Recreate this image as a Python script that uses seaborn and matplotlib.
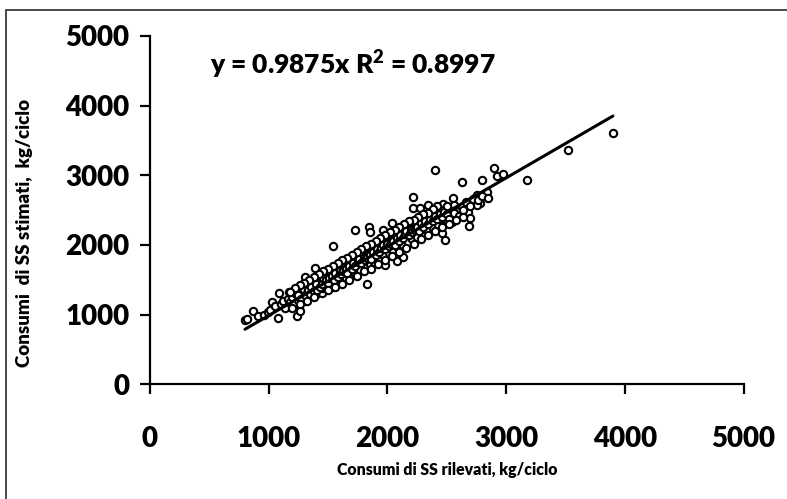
import numpy as np
import pandas as pd
import seaborn as sns
import matplotlib.pyplot as plt
from matplotlib.patches import Rectangle

# ---------------- data ----------------
x_a = [800, 820, 871, 910, 960, 995, 1010, 1025, 1050, 1076,
       1090, 1100, 1120, 1140, 1160, 1174, 1180, 1200, 1210, 1230,
       1236, 1250, 1264, 1270, 1280, 1290, 1300, 1306, 1320, 1330,
       1340, 1350, 1360, 1370, 1380, 1390, 1400, 1410, 1420, 1430,
       1440, 1446, 1450, 1460, 1470, 1480, 1490, 1500, 1510, 1520,
       1530, 1540, 1545, 1550, 1560, 1570, 1580, 1590, 1600, 1610,
       1620, 1630, 1640, 1650, 1660, 1670, 1680, 1690, 1700, 1710,
       1720, 1727, 1730, 1740, 1750, 1760, 1770, 1780, 1790, 1800,
       1810, 1820, 1826, 1830, 1840, 1848, 1853, 1850, 1860, 1870,
       1880, 1890, 1900, 1910, 1920, 1930, 1940, 1950, 1960, 1966,
       1970, 1980, 1985, 1990, 2000, 2010, 2020, 2030, 2036, 2040,
       2050, 2060, 2070, 2079, 2080, 2090, 2100, 2110, 2120, 2130,
       2135, 2140, 2150, 2160, 2170, 2180, 2190, 2200, 2210, 2218,
       2218, 2220, 2230, 2240, 2250, 2260, 2275, 2280, 2290, 2300,
       2310, 2320, 2330, 2345, 2350, 2360, 2370, 2380, 2390, 2401,
       2410, 2420, 2430, 2440, 2458, 2466, 2471, 2480, 2486, 2500,
       2520, 2542, 2550, 2584, 2600, 2626, 2626, 2682, 2682, 2696,
       2690, 2752, 2738, 2780, 2752, 2795, 2837, 2901, 2921, 2977,
       3174, 3519, 3900]
y_a = [924, 935, 1053, 986, 1000, 1039, 1060, 1178, 1120, 957,
       1307, 1150, 1200, 1100, 1230, 1331, 1180, 1250, 1150, 1290,
       986, 1210, 1058, 1330, 1260, 1380, 1200, 1546, 1320, 1420,
       1260, 1380, 1480, 1330, 1400, 1667, 1300, 1450, 1380, 1520,
       1420, 1307, 1500, 1380, 1580, 1460, 1400, 1540, 1620, 1480,
       1400, 1560, 1987, 1650, 1520, 1450, 1600, 1700, 1560, 1480,
       1640, 1740, 1600, 1520, 1680, 1780, 1640, 1560, 1720, 1820,
       1680, 2217, 1600, 1760, 1870, 1720, 1640, 1800, 1900, 1760,
       1680, 1840, 1441, 1950, 1800, 2265, 2193, 1720, 1880, 2000,
       1840, 1760, 1920, 2040, 1880, 1800, 1960, 2080, 1920, 2217,
       1840, 1714, 2000, 2120, 1960, 1880, 2040, 2160, 2322, 2000,
       1920, 2080, 2200, 1776, 2040, 1960, 2120, 2240, 2080, 2000,
       1833, 2160, 2280, 2120, 2040, 2200, 2320, 2160, 2080, 2687,
       2529, 2240, 2360, 2200, 2120, 2280, 2529, 2240, 2160, 2320,
       2420, 2280, 2200, 2576, 2360, 2460, 2300, 2240, 2400, 3079,
       2340, 2460, 2280, 2380, 2169, 2586, 2504, 2420, 2073, 2340,
       2460, 2336, 2673, 2418, 2500, 2897, 2552, 2576, 2480, 2385,
       2274, 2720, 2672, 2600, 2576, 2935, 2767, 3103, 2997, 3017,
       2935, 3366, 3611]

x_b = [1250, 1270, 1300, 1310, 1330, 1350, 1360, 1380, 1400, 1410,
       1430, 1450, 1460, 1480, 1500, 1510, 1530, 1550, 1560, 1580,
       1600, 1610, 1630, 1650, 1660, 1680, 1700, 1710, 1730, 1750,
       1760, 1780, 1800, 1810, 1830, 1850, 1860, 1880, 1900, 1910,
       1930, 1950, 1960, 1980, 2000, 2010, 2030, 2050, 2060, 2080,
       2100, 2110, 2130, 2150, 2160, 2180, 2200, 2210, 2230, 2250,
       2270, 2280, 2300, 2320, 2340, 2360, 2380, 2400, 2420, 2440,
       2460, 2480, 2500, 2520, 2540, 2560, 2600, 2640, 2660, 2700,
       2720, 2760, 2800, 2850, 2560, 2500, 2420, 2380, 2340, 2300,
       2260, 2220, 2180, 2140, 2100, 2060, 2020, 1980, 1940, 1900,
       1860, 1820, 1780, 1740, 1700, 1660, 1620, 1580, 1540, 1500,
       1460, 1420, 1380, 1340, 1300, 1260, 1220, 1180, 1200, 1260,
       1320, 1380, 1500, 1560, 1620, 1680, 1740, 1800, 1860, 1920,
       1980, 2040, 2100, 2160, 2220, 2280, 2340, 2400, 2460, 2520,
       2580, 2640]
y_b = [1280, 1230, 1350, 1280, 1360, 1300, 1400, 1340, 1440, 1360,
       1400, 1440, 1520, 1500, 1460, 1520, 1560, 1500, 1600, 1540,
       1620, 1580, 1620, 1660, 1600, 1700, 1660, 1740, 1700, 1760,
       1800, 1740, 1820, 1780, 1820, 1860, 1800, 1900, 1860, 1940,
       1900, 1960, 2000, 1940, 2020, 1980, 2020, 2060, 2000, 2100,
       2060, 2140, 2100, 2160, 2200, 2140, 2220, 2180, 2220, 2260,
       2200, 2320, 2260, 2340, 2300, 2380, 2340, 2420, 2380, 2440,
       2400, 2480, 2440, 2380, 2520, 2460, 2420, 2500, 2620, 2560,
       2660, 2640, 2700, 2680, 2580, 2560, 2560, 2520, 2460, 2440,
       2400, 2360, 2340, 2300, 2260, 2220, 2180, 2140, 2100, 2060,
       2020, 1980, 1940, 1900, 1860, 1820, 1780, 1740, 1700, 1660,
       1620, 1580, 1540, 1500, 1460, 1420, 1380, 1320, 1100, 1150,
       1200, 1250, 1350, 1400, 1440, 1500, 1560, 1620, 1660, 1720,
       1780, 1840, 1900, 1960, 2020, 2080, 2140, 2200, 2260, 2300,
       2360, 2400]

slope = 0.9875
r2 = 0.8997
x_ticks = [0, 1000, 2000, 3000, 4000, 5000]
y_ticks = [0, 1000, 2000, 3000, 4000, 5000]
x_label = "Consumi di SS rilevati, kg/ciclo"
y_label = "Consumi  di SS stimati,  kg/ciclo"

df = pd.DataFrame({"rilevati": x_a + x_b, "stimati": y_a + y_b})
line_df = pd.DataFrame({"rilevati": [df["rilevati"].min(), df["rilevati"].max()]})
line_df["stimati"] = slope * line_df["rilevati"]

# ---------------- style ----------------
sns.set_theme(style="white")
plt.rcParams["font.family"] = ["Lato", "DejaVu Sans"]
plt.rcParams["font.weight"] = "heavy"
plt.rcParams["mathtext.fontset"] = "custom"
plt.rcParams["mathtext.bf"] = "Lato:heavy"
plt.rcParams["mathtext.rm"] = "Lato:heavy"

W, H = 787, 499
fig = plt.figure(figsize=(W / 100, H / 100), dpi=100)
fig.patch.set_facecolor("white")
ax = fig.add_axes([150 / W, 1 - 384.3 / H, (743.5 - 150) / W, (384.3 - 36) / H])
ax.set_facecolor("white")

sns.scatterplot(data=df, x="rilevati", y="stimati", ax=ax, marker="o",
                s=28, facecolor="white", edgecolor="black", linewidth=1.5,
                zorder=3)
sns.lineplot(data=line_df, x="rilevati", y="stimati", ax=ax, color="black",
             linewidth=2.2, zorder=4)

ax.set_xlim(0, 5000)
ax.set_ylim(0, 5000)
ax.set_xticks(x_ticks)
ax.set_yticks(y_ticks)
ax.set_xticklabels([str(t) for t in x_ticks], fontsize=20, fontweight="heavy")
ax.set_yticklabels([str(t) for t in y_ticks], fontsize=20, fontweight="heavy")
ax.tick_params(axis="x", direction="out", length=7, width=1.6, pad=23, colors="black")
ax.tick_params(axis="y", direction="out", length=7, width=1.6, pad=8, colors="black")
ax.tick_params(bottom=True, left=True)
for side in ["top", "right"]:
    ax.spines[side].set_visible(False)
for side in ["left", "bottom"]:
    ax.spines[side].set_color("black")
    ax.spines[side].set_linewidth(1.6)
ax.set_xlabel("")
ax.set_ylabel("")
ax.grid(False)
for sp in ax.spines.values():
    sp.set_clip_on(False)

ax.text(505, 4590, "y = %.4fx R$^{2}$ = %.4f" % (slope, r2),
        fontsize=19, fontweight="heavy", ha="left", va="center", color="black")

fig.text(447 / W, 1 - 470 / H, x_label, ha="center", va="center",
         fontsize=11.4, fontweight="heavy", color="black")
fig.text(25 / W, 1 - 233 / H, y_label, ha="center", va="center", rotation=90,
         fontsize=13.5, fontweight="heavy", color="black")

# outer chart border (top and left edges visible)
fig.add_artist(Rectangle((5.5 / W, -0.2), 1.2, 1.2 - 10 / H, transform=fig.transFigure,
                         fill=False, edgecolor="#3c3c3c", linewidth=1.3))

fig.savefig("out.png", dpi=100, facecolor="white")
